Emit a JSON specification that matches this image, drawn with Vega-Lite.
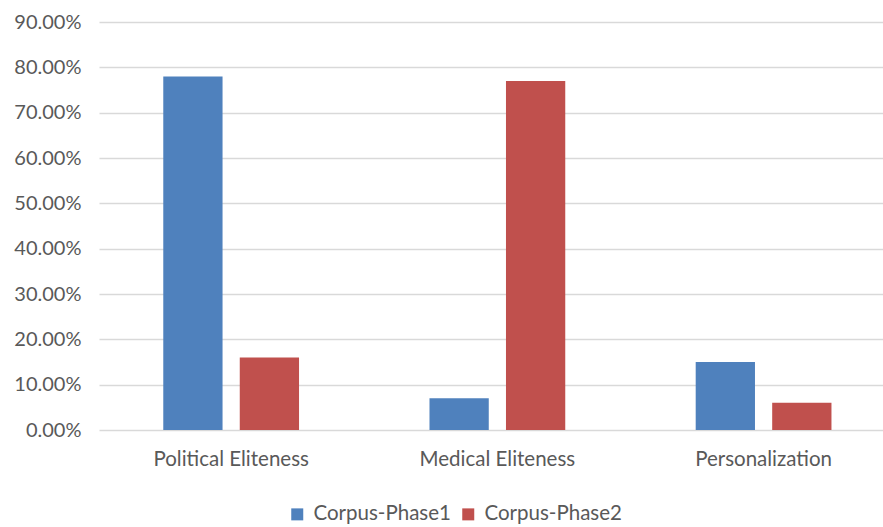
{
  "$schema": "https://vega.github.io/schema/vega-lite/v6.json",
  "width": 784,
  "height": 408,
  "autosize": {"type": "none"},
  "padding": {"left": 99, "top": 22, "right": 0, "bottom": 97},
  "background": "white",
  "config": {
    "view": {"stroke": null},
    "font": "Lato"
  },
  "data": {
    "values": [
      {"category": "Political Eliteness", "series": "Corpus-Phase1", "value": 0.78},
      {"category": "Political Eliteness", "series": "Corpus-Phase2", "value": 0.16},
      {"category": "Medical Eliteness", "series": "Corpus-Phase1", "value": 0.07},
      {"category": "Medical Eliteness", "series": "Corpus-Phase2", "value": 0.77},
      {"category": "Personalization", "series": "Corpus-Phase1", "value": 0.15},
      {"category": "Personalization", "series": "Corpus-Phase2", "value": 0.06}
    ]
  },
  "mark": {"type": "bar"},
  "encoding": {
    "x": {
      "field": "category",
      "type": "nominal",
      "sort": ["Political Eliteness", "Medical Eliteness", "Personalization"],
      "scale": {"paddingInner": 0.49, "paddingOuter": 0.2175, "align": 0.555},
      "axis": {
        "title": null,
        "labelAngle": 0,
        "labelOverlap": false,
        "domain": false,
        "ticks": false,
        "labelFontSize": 20.5,
        "labelColor": "#595959",
        "labelPadding": 19
      }
    },
    "xOffset": {
      "field": "series",
      "type": "nominal",
      "scale": {"paddingInner": 0.225, "paddingOuter": 0}
    },
    "y": {
      "field": "value",
      "type": "quantitative",
      "scale": {"domain": [0, 0.9], "nice": false},
      "axis": {
        "title": null,
        "format": ".2%",
        "values": [0, 0.1, 0.2, 0.3, 0.4, 0.5, 0.6, 0.7, 0.8, 0.9],
        "labelOverlap": false,
        "domain": false,
        "ticks": false,
        "gridColor": "#d9d9d9",
        "gridWidth": 1.5,
        "labelFontSize": 20,
        "labelColor": "#595959",
        "labelPadding": 18
      }
    },
    "color": {
      "field": "series",
      "type": "nominal",
      "scale": {"domain": ["Corpus-Phase1", "Corpus-Phase2"], "range": ["#4F81BD", "#C0504D"]},
      "legend": {
        "title": null,
        "orient": "none",
        "direction": "horizontal",
        "legendX": 188,
        "legendY": 482,
        "symbolType": "square",
        "symbolSize": 144,
        "symbolStrokeWidth": 0,
        "labelFontSize": 20.5,
        "labelColor": "#595959",
        "columnPadding": 7,
        "labelOffset": 6
      }
    }
  }
}
